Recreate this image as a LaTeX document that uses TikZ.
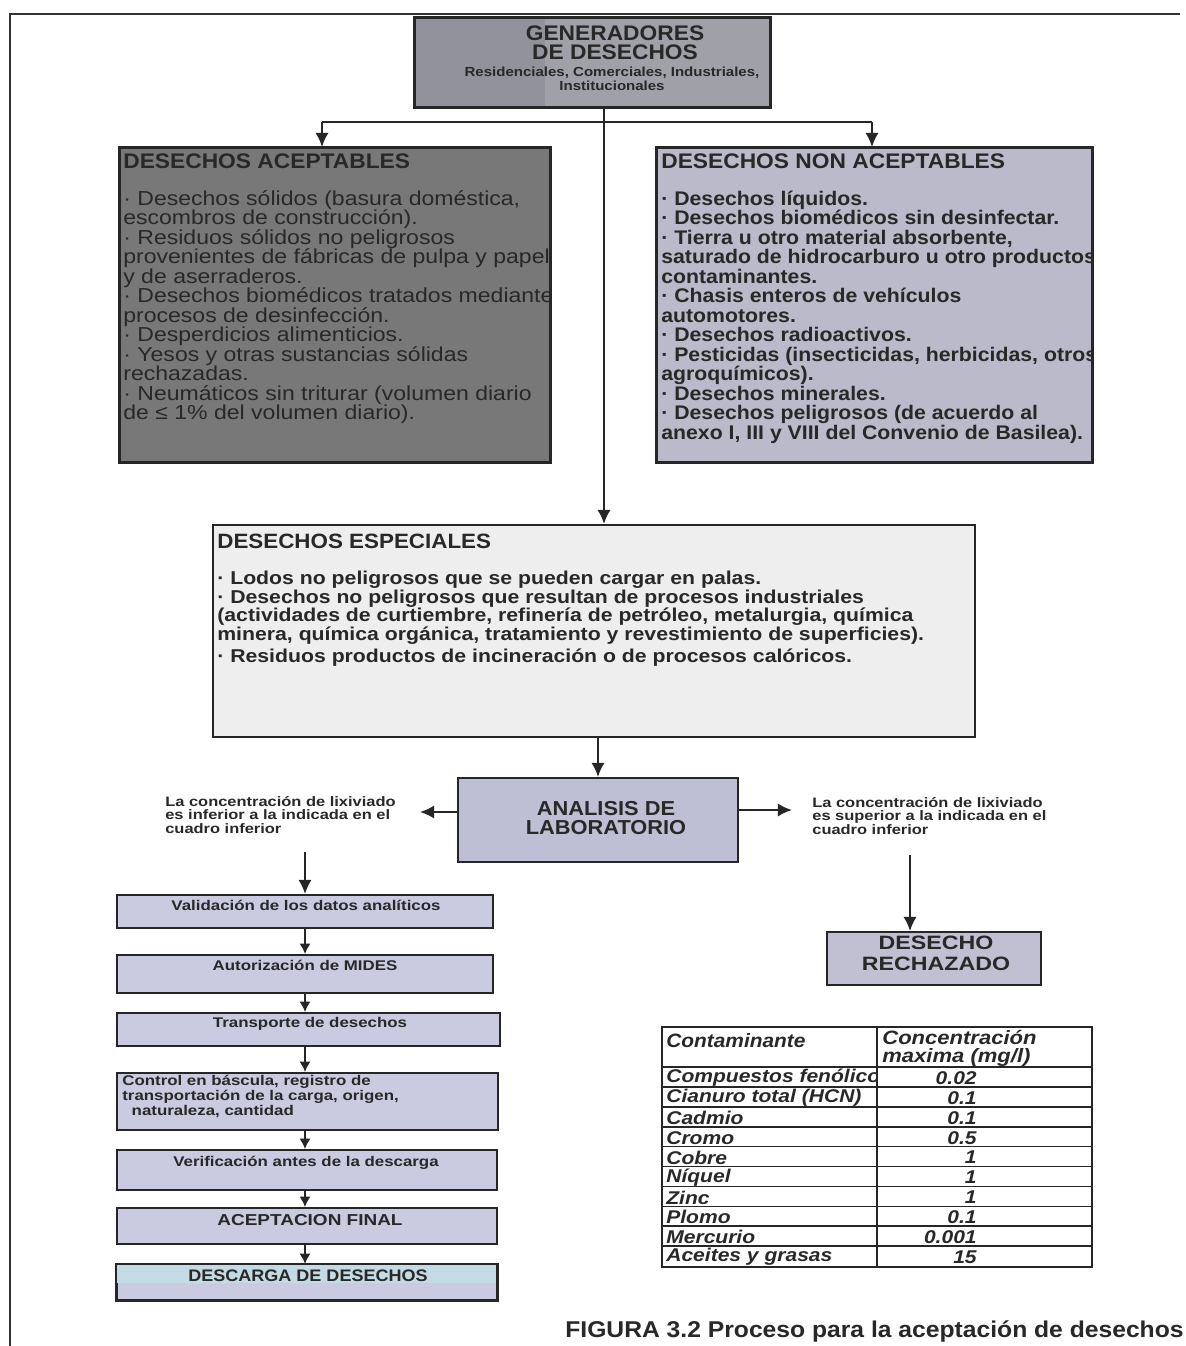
\documentclass[tikz,border=0pt]{standalone}
\usepackage{fontspec}
\setmainfont{Liberation Sans}[FakeStretch=1.14]
\newfontfamily\stB{Liberation Sans}[FakeStretch=1.08]
\newfontfamily\stC{Liberation Sans}[FakeStretch=1.2]
\usetikzlibrary{arrows.meta,fit,calc}
\definecolor{topfill}{RGB}{160,160,168}
\definecolor{topdark}{RGB}{146,146,156}
\definecolor{accfill}{RGB}{120,120,120}
\definecolor{nonfill}{RGB}{186,186,202}
\definecolor{espfill}{RGB}{238,238,238}
\definecolor{labfill}{RGB}{190,190,212}
\definecolor{chainfill}{RGB}{202,202,224}
\definecolor{rechfill}{RGB}{192,192,210}
\definecolor{descblue}{RGB}{196,218,228}
\definecolor{ink}{RGB}{40,40,40}
\begin{document}
\begin{tikzpicture}[x=0.02cm,y=-0.02cm,
  box/.style={draw=black!85, line width=1.1pt, inner sep=0pt},
  arr/.style={-{Latex[length=8pt,width=7.5pt]}, line width=1.2pt, draw=black!85},
  sarr/.style={-{Latex[length=6pt,width=6.5pt]}, line width=1.1pt, draw=black!85},
  txt/.style={inner sep=0pt, align=left, text=ink},
  ctxt/.style={inner sep=0pt, align=center, text=ink},
  cell/.style={inner sep=0pt, text=ink, font={\fontsize{10.5}{11}\selectfont\bfseries\itshape}}]
\useasboundingbox (0,0) rectangle (1186,1346);
\fill[white] (0,0) rectangle (1186,1346);
% outer frame
\draw[line width=1.3pt, black!80] (10,1346) -- (10,14) -- (1180,14);

% top box
\node[box, fill=topfill, fit={(415,18) (770,107)}] (gen) {};
\fill[topdark] (416,19) rectangle (545,106);
\draw[black!85, line width=1.1pt] (gen.north west) rectangle (gen.south east);
\node[ctxt, font={\stB\fontsize{12}{10.8}\selectfont\bfseries}] (gent) at (615,43) {GENERADORES\\DE DESECHOS};
\node[ctxt, font={\fontsize{7.5}{8}\selectfont\bfseries}] (gens) at (612,79) {Residenciales, Comerciales, Industriales,\\Institucionales};

% accepted
\node[box, fill=accfill, fit={(120,148) (550,462)}] (acc) {};
\begin{scope}
\clip (acc.north west) rectangle (acc.south east);
\node[txt, anchor=north west, font={\fontsize{11.5}{11.1}\selectfont}] (acct) at (123,153)
 {{\stB\fontsize{12}{11.1}\selectfont\bfseries DESECHOS ACEPTABLES}\\[10pt]
 · Desechos sólidos (basura doméstica,\\
 escombros de construcción).\\
 · Residuos sólidos no peligrosos\\
 provenientes de fábricas de pulpa y papel\\
 y de aserraderos.\\
 · Desechos biomédicos tratados mediante\\
 procesos de desinfección.\\
 · Desperdicios alimenticios.\\
 · Yesos y otras sustancias sólidas\\
 rechazadas.\\
 · Neumáticos sin triturar (volumen diario\\
 de ≤ 1\% del volumen diario).};
\end{scope}
\draw[black!85, line width=1.1pt] (acc.north west) rectangle (acc.south east);

% non accepted
\node[box, fill=nonfill, fit={(657,148) (1092,462)}] (non) {};
\begin{scope}
\clip (non.north west) rectangle (non.south east);
\node[txt, anchor=north west, font={\stB\fontsize{11.2}{11.1}\selectfont\bfseries}] (nont) at (661,153)
 {{\fontsize{12}{11.1}\selectfont DESECHOS NON ACEPTABLES}\\[10pt]
 · Desechos líquidos.\\
 · Desechos biomédicos sin desinfectar.\\
 · Tierra u otro material absorbente,\\
 saturado de hidrocarburo u otro productos\\
 contaminantes.\\
 · Chasis enteros de vehículos\\
 automotores.\\
 · Desechos radioactivos.\\
 · Pesticidas (insecticidas, herbicidas, otros\\
 agroquímicos).\\
 · Desechos minerales.\\
 · Desechos peligrosos (de acuerdo al\\
 anexo I, III y VIII del Convenio de Basilea).};
\end{scope}
\draw[black!85, line width=1.1pt] (non.north west) rectangle (non.south east);

% special
\node[box, fill=espfill, fit={(213,525) (975,737)}] (esp) {};
\node[txt, anchor=north west, font={\fontsize{10.6}{10.5}\selectfont\bfseries}] (espt) at (217,534)
 {{\stB\fontsize{11.8}{10.5}\selectfont DESECHOS ESPECIALES}\\[10pt]
 · Lodos no peligrosos que se pueden cargar en palas.\\
 · Desechos no peligrosos que resultan de procesos industriales\\
 (actividades de curtiembre, refinería de petróleo, metalurgia, química\\
 minera, química orgánica, tratamiento y revestimiento de superficies).\\[2pt]
 · Residuos productos de incineración o de procesos calóricos.};

% laboratory
\node[box, fill=labfill, fit={(458,778) (738,862)}] (lab) {};
\node[ctxt, font={\stB\fontsize{11.5}{11.3}\selectfont\bfseries}] (labt) at (606,818) {ANALISIS DE\\LABORATORIO};

\node[txt, anchor=north west, font={\stC\fontsize{7.8}{7.7}\selectfont\bfseries}] (ltxt) at (165,796)
 {La concentración de lixiviado\\es inferior a la indicada en el\\cuadro inferior};
\node[txt, anchor=north west, font={\stC\fontsize{7.8}{7.7}\selectfont\bfseries}] (rtxt) at (812,797)
 {La concentración de lixiviado\\es superior a la indicada en el\\cuadro inferior};

% rejected
\node[box, fill=rechfill, fit={(827,932) (1041,985)}] (rech) {};
\node[ctxt, font={\stC\fontsize{11}{12}\selectfont\bfseries}] (recht) at (936,953) {DESECHO\\RECHAZADO};

% chain
\node[box, fill=chainfill, fit={(117,895) (493,928)}] (c1) {};
\node[ctxt, font={\stC\fontsize{8}{8.5}\selectfont\bfseries}] at (306,905) {Validación de los datos analíticos};
\node[box, fill=chainfill, fit={(117,955) (493,993)}] (c2) {};
\node[ctxt, font={\stC\fontsize{8}{8.5}\selectfont\bfseries}] at (305,965) {Autorización de MIDES};
\node[box, fill=chainfill, fit={(117,1013) (500,1046)}] (c3) {};
\node[ctxt, font={\stC\fontsize{8}{8.5}\selectfont\bfseries}] at (310,1024) {Transporte de desechos};
\node[box, fill=chainfill, fit={(117,1073) (498,1130)}] (c4) {};
\node[txt, anchor=north west, font={\stC\fontsize{8}{8.5}\selectfont\bfseries}] at (122,1075)
 {Control en báscula, registro de\\transportación de la carga, origen,\\\ \ naturaleza, cantidad};
\node[box, fill=chainfill, fit={(117,1150) (497,1190)}] (c5) {};
\node[ctxt, font={\stC\fontsize{8}{8.5}\selectfont\bfseries}] at (306,1163) {Verificación antes de la descarga};
\node[box, fill=chainfill, fit={(117,1208) (497,1244)}] (c6) {};
\node[ctxt, font={\stC\fontsize{9}{9}\selectfont\bfseries}] at (310,1220) {ACEPTACION FINAL};
\node[box, fill=chainfill, fit={(117,1265) (497,1300)}] (c7) {};
\fill[descblue] ($(c7.north west)+(1,1)$) rectangle (496,1283);
\draw[black!85, line width=1.1pt] (c7.north west) rectangle (c7.south east);
\node[ctxt, font={\stB\fontsize{9.5}{9.5}\selectfont\bfseries}] at (308,1276) {DESCARGA DE DESECHOS};

% connectors
\coordinate (trunk) at (604,0);
\coordinate (jl) at (322,122);
\coordinate (jr) at (872,122);
\draw[line width=1.2pt, black!85] (jl) -- (jr);
\draw[arr] (gen.south -| trunk) -- (esp.north -| trunk);
\draw[arr] (jl) -- (acc.north -| jl);
\draw[arr] (jr) -- (non.north -| jr);
\draw[arr] (esp.south -| lab.north) -- (lab.north);
\coordinate (lt) at (420,812);
\coordinate (rt) at (792,810);
\draw[arr] (lab.west |- lt) -- (lt);
\draw[arr] (lab.east |- rt) -- (rt);
\coordinate (rs) at (910,855);
\draw[arr] (rs) -- (rech.north -| rs);
\coordinate (ls) at (305,852);
\draw[arr] (ls) -- (c1.north -| ls);
\draw[sarr] (c1.south -| ls) -- (c2.north -| ls);
\draw[sarr] (c2.south -| ls) -- (c3.north -| ls);
\draw[sarr] (c3.south -| ls) -- (c4.north -| ls);
\draw[sarr] (c4.south -| ls) -- (c5.north -| ls);
\draw[sarr] (c5.south -| ls) -- (c6.north -| ls);
\draw[sarr] (c6.south -| ls) -- (c7.north -| ls);

% table
\node[draw=black!85, line width=1.2pt, inner sep=0pt, fit={(662,1027) (1092,1267)}] (tab) {};
\draw[black!85, line width=1pt] (877,1027) -- (877,1267);
\node[cell, font={\stB\fontsize{11}{11}\selectfont\bfseries\itshape}, anchor=west] (th1) at (666,1041) {Contaminante};
\node[cell, font={\fontsize{11}{10.5}\selectfont\bfseries\itshape}, anchor=north west, align=left] (th2) at (882,1030) {Concentración\\maxima (mg/l)};
\begin{scope}
\clip (662,1027) rectangle (877,1267);
\foreach \n [count=\i from 0] in {Compuestos fenólicos, Cianuro total (HCN), Cadmio, Cromo, Cobre, Níquel, Zinc, Plomo, Mercurio, Aceites y grasas} {
  \node[cell, anchor=west] at (666,1078+19.9*\i) {\n};
}
\end{scope}
\foreach \v [count=\i from 0] in {0.02, 0.1, 0.1, 0.5, 1, 1, 1, 0.1, 0.001, 15} {
  \draw[black!85, line width=0.9pt] (662,1067+19.9*\i) -- (1092,1067+19.9*\i);
  \node[cell, anchor=east] at (977,1078+19.9*\i) {\v};
}

% caption
\node[inner sep=0pt, anchor=east, text=ink, font={\stB\fontsize{13}{13}\selectfont\bfseries}] (cap) at (1184,1331) {FIGURA 3.2 Proceso para la aceptación de desechos};
\end{tikzpicture}
\end{document}
